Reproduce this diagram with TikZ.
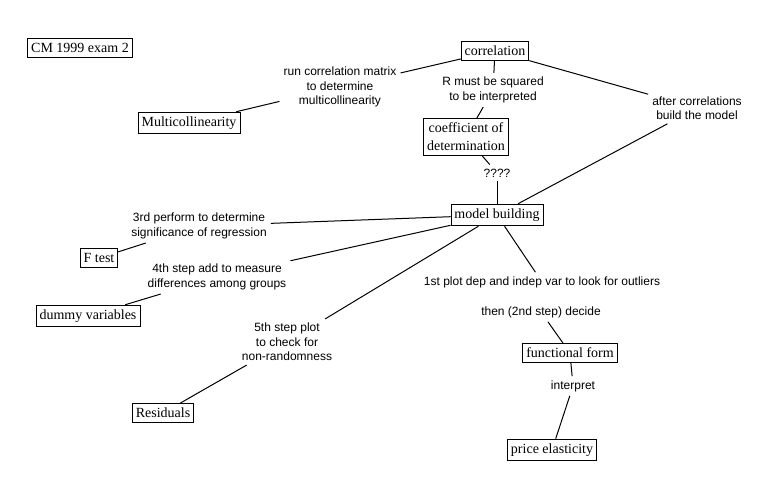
\documentclass[tikz,border=0pt]{standalone}
\usepackage{fontspec}
\setmainfont{Liberation Serif}
\setsansfont{Liberation Sans}
\begin{document}
\begin{tikzpicture}[x=1bp,y=-1bp,
	concept/.style={draw, line width=0.8bp, inner xsep=3.5bp, inner ysep=4.5bp, align=center,
		font=\fontsize{14bp}{18bp}\selectfont},
	phrase/.style={inner sep=4bp, align=center, font=\sffamily\fontsize{12bp}{14.5bp}\selectfont},
	link/.style={line width=1bp}]
	\useasboundingbox (0,0) rectangle (771,500);
	\node[concept] (exam) at (80,48) {CM 1999 exam 2};
	\node[concept] (corr) at (495,51) {correlation};
	\node[concept] (multi) at (189,123) {Multicollinearity};
	\node[concept] (coef) at (466,137) {coefficient of\\determination};
	\node[concept] (model) at (497,215) {model building};
	\node[concept] (ftest) at (99,258) {F test};
	\node[concept] (dummy) at (88,316) {dummy variables};
	\node[concept] (resid) at (163,413) {Residuals};
	\node[concept] (form) at (570,353) {functional form};
	\node[concept] (price) at (552,450) {price elasticity};
	\node[phrase] (run) at (340,87) {run correlation matrix\\to determine\\multicollinearity};
	\node[phrase] (squared) at (493,90) {R must be squared\\to be interpreted};
	\node[phrase] (after) at (697,108) {after correlations\\build the model};
	\node[phrase] (quest) at (497,173) {????};
	\node[phrase] (third) at (199,226) {3rd perform to determine\\significance of regression};
	\node[phrase] (fourth) at (217,277) {4th step add to measure\\differences among groups};
	\node[phrase] (fifth) at (287,342) {5th step plot\\to check for\\non-randomness};
	\node[phrase] (first) at (542,282) {1st plot dep and indep var to look for outliers};
	\node[phrase] (then) at (541,312) {then (2nd step) decide};
	\node[phrase] (interp) at (573,386) {interpret};
	\draw[link] (corr) -- (run);
	\draw[link] (run) -- (multi);
	\draw[link] (corr) -- (squared);
	\draw[link] (squared) -- (coef);
	\draw[link] (corr) -- (after);
	\draw[link] (after) -- (model);
	\draw[link] (coef) -- (quest);
	\draw[link] (quest) -- (model);
	\draw[link] (model) -- (third);
	\draw[link] (third) -- (ftest);
	\draw[link] (model) -- (fourth);
	\draw[link] (fourth) -- (dummy);
	\draw[link] (model) -- (fifth);
	\draw[link] (fifth) -- (resid);
	\draw[link] (model) -- (first);
	\draw[link] (then) -- (form);
	\draw[link] (form) -- (interp);
	\draw[link] (interp) -- (price);
\end{tikzpicture}
\end{document}
